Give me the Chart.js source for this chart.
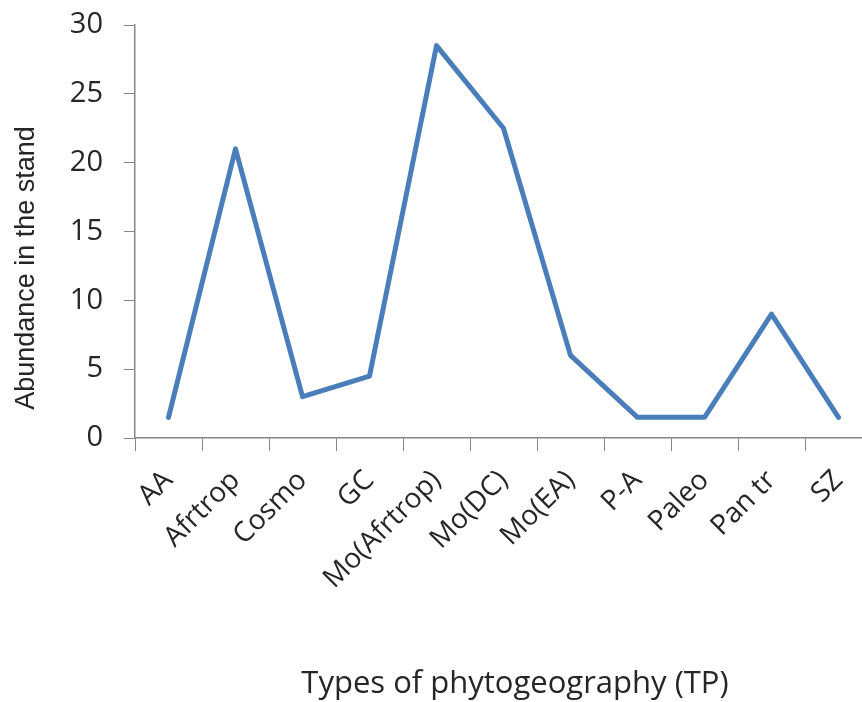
<!DOCTYPE html>
<html>
<head>
<meta charset="utf-8">
<script src="https://cdn.jsdelivr.net/npm/chart.js@4.4.1/dist/chart.umd.min.js"></script>
<style>
    html, body { margin: 0; padding: 0; background: #fff; overflow: hidden; }
    #wrap { width: 890px; height: 702px; }
</style>
</head>
<body>
<div id="wrap"><canvas id="chart" width="890" height="702"></canvas></div>
<script>

const categories = ["AA", "Afrtrop", "Cosmo", "GC", "Mo(Afrtrop)", "Mo(DC)", "Mo(EA)", "P-A", "Paleo", "Pan tr", "SZ"];

const abundance = [1.5, 21, 3, 4.5, 28.5, 22.5, 6, 1.5, 1.5, 9, 1.5];

const yTicks = [0, 5, 10, 15, 20, 25, 30];

const xTitle = "Types of phytogeography (TP)";
const yTitle = "Abundance in the stand";

const axisColor = "#868686";
const textColor = "#262626";

// axis titles drawn at the spots they sit in the original
const titlesPlugin = {
    id: "titles",
    afterDraw(chart) {
        const ctx = chart.ctx;
        ctx.save();
        ctx.fillStyle = textColor;
        ctx.textAlign = "center";
        ctx.textBaseline = "middle";

        ctx.font = "31px 'Open Sans'";
        ctx.fillText(xTitle, 515, 684);

        ctx.translate(27, 268);
        ctx.rotate(-Math.PI / 2);
        ctx.font = "27px 'Liberation Sans'";
        ctx.fillText(yTitle, 0, 0);
        ctx.restore();
    }
};

new Chart(document.getElementById("chart"), {
    type: "line",
    data: {
        labels: categories,
        datasets: [{
            data: abundance,
            borderColor: "#4a7ebb",
            borderWidth: 5,
            borderJoinStyle: "round",
            borderCapStyle: "round",
            pointRadius: 0,
            tension: 0,
            fill: false
        }]
    },
    options: {
        responsive: false,
        animation: false,
        layout: {
            padding: { top: 25, right: 18, left: 0, bottom: 0 }
        },
        plugins: {
            legend: { display: false },
            tooltip: { enabled: false }
        },
        scales: {
            x: {
                offset: true,
                grid: {
                    offset: true,
                    drawOnChartArea: false,
                    drawTicks: true,
                    tickLength: 13,
                    color: axisColor
                },
                border: { color: axisColor, width: 1.5 },
                ticks: {
                    autoSkip: false,
                    minRotation: 45,
                    maxRotation: 45,
                    padding: 13,
                    color: textColor,
                    font: { family: "'Open Sans'", size: 28 }
                },
                afterFit(scale) { scale.height = 264; }
            },
            y: {
                min: 0,
                max: 30,
                afterBuildTicks(scale) {
                    scale.ticks = yTicks.map(v => ({ value: v }));
                },
                grid: {
                    drawOnChartArea: false,
                    drawTicks: true,
                    tickLength: 11,
                    color: axisColor
                },
                border: { color: axisColor, width: 1.5 },
                ticks: {
                    padding: 21,
                    color: textColor,
                    font: { family: "'Open Sans'", size: 29 }
                },
                afterFit(scale) {
                    scale.width = 135;
                    scale.paddingTop = 0;
                    scale.paddingBottom = 0;
                }
            }
        }
    },
    plugins: [titlesPlugin]
});

</script>
</body>
</html>
